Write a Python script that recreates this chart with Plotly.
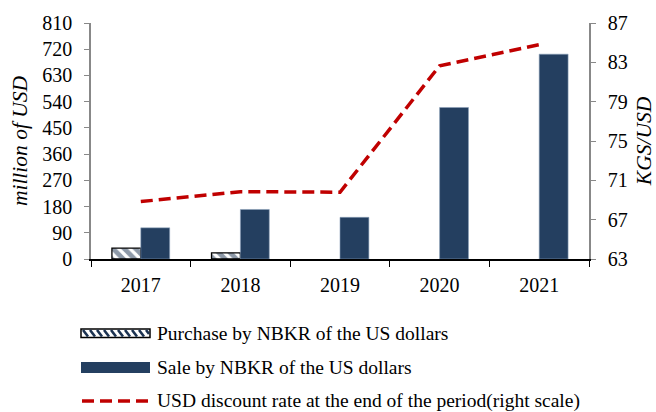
import plotly.graph_objects as go

years = ["2017", "2018", "2019", "2020", "2021"]
purchase = [37, 21, None, None, None]
sale = [107, 170, 143, 520, 703]
rate = [68.84, 69.85, 69.79, 82.65, 84.79]

legend_labels = [
    "Purchase by NBKR of the US dollars",
    "Sale by NBKR of the US dollars",
    "USD discount rate at the end of the period(right scale)",
]

NAVY = "#243F60"
HATCH = "#1c3352"
RED = "#C00000"
FONT = "Liberation Serif"

W, H = 656, 412
L, R, T, B = 91, 589, 23, 259


def px(x):
    return (x - L) / (R - L)


def py(y):
    return (B - y) / (B - T)


fig = go.Figure()
fig.add_bar(x=years, y=purchase, name=legend_labels[0], offsetgroup="p",
            marker=dict(color="white", line=dict(color="black", width=1.3),
                        pattern=dict(shape="\\", fgcolor=HATCH, bgcolor="white",
                                     size=8, solidity=0.6)))
fig.add_bar(x=years, y=sale, name=legend_labels[1], offsetgroup="s",
            marker=dict(color=NAVY, line=dict(color="#8aa0b8", width=0.6)))
fig.add_scatter(x=years, y=rate, name=legend_labels[2], yaxis="y2", mode="lines",
                line=dict(color=RED, width=3.5, dash="12px,6px"))

shapes = []
annotations = []
# legend item 1: hatched rectangle
x0, x1, y0, y1 = 81, 150, 329, 337.5
shapes.append(dict(type="rect", xref="paper", yref="paper", x0=px(x0), x1=px(x1),
                   y0=py(y1), y1=py(y0), fillcolor="white",
                   line=dict(color="black", width=1.5), layer="above"))
s = x0 + 2
while s < x1 - 3:
    e = min(s + 5, x1 - 1)
    yy = y0 + 1 + (e - s) * (y1 - y0 - 2) / 5
    shapes.append(dict(type="line", xref="paper", yref="paper", x0=px(s), x1=px(e),
                       y0=py(y0 + 1), y1=py(yy), line=dict(color=HATCH, width=2.6),
                       layer="above"))
    s += 7
# legend item 2: solid rectangle
shapes.append(dict(type="rect", xref="paper", yref="paper", x0=px(81), x1=px(150),
                   y0=py(373), y1=py(362), fillcolor=NAVY, line=dict(width=0),
                   layer="above"))
# legend item 3: dashed line
shapes.append(dict(type="line", xref="paper", yref="paper", x0=px(82), x1=px(150),
                   y0=py(401), y1=py(401), line=dict(color=RED, width=3.5, dash="12px,6px"),
                   layer="above"))
for lab, yc in zip(legend_labels, [333, 367, 401]):
    annotations.append(dict(text=lab, xref="paper", yref="paper", x=px(155), y=py(yc),
                            xanchor="left", yanchor="middle", showarrow=False,
                            font=dict(family=FONT, size=19.5, color="black")))

fig.update_layout(
    width=W, height=H,
    margin=dict(l=L, r=W - R, t=T, b=H - B, autoexpand=False),
    paper_bgcolor="white", plot_bgcolor="white",
    barmode="group", bargap=0.42, bargroupgap=0,
    showlegend=False,
    font=dict(family=FONT, size=20, color="black"),
    xaxis=dict(type="category", showline=True, linecolor="black", linewidth=1.5,
               ticks="outside", tickson="boundaries", ticklen=6, tickcolor="black",
               showgrid=False, tickfont=dict(size=20), automargin=False,
               ticklabelstandoff=7),
    yaxis=dict(range=[0, 810], dtick=90, showline=True, linecolor="#888888", linewidth=1.5,
               ticks="outside", ticklen=5, tickcolor="#888888", showgrid=False, zeroline=False,
               tickfont=dict(size=20), automargin=False, ticklabelstandoff=8,
               title=dict(text="<i>million of USD</i>", font=dict(size=21.5), standoff=9)),
    yaxis2=dict(range=[63, 87], tick0=63, dtick=4, overlaying="y", side="right", showline=True,
                linecolor="#888888", linewidth=1.5, ticks="outside", ticklen=5,
                tickcolor="#888888", showgrid=False, zeroline=False, tickfont=dict(size=20),
                automargin=False, ticklabelstandoff=8,
                title=dict(text="<i>KGS/USD</i>", font=dict(size=21.5), standoff=11)),
    shapes=shapes,
    annotations=annotations,
)

fig.write_html("out.html", config={"displayModeBar": False},
               post_script="document.body.style.margin='0';")
